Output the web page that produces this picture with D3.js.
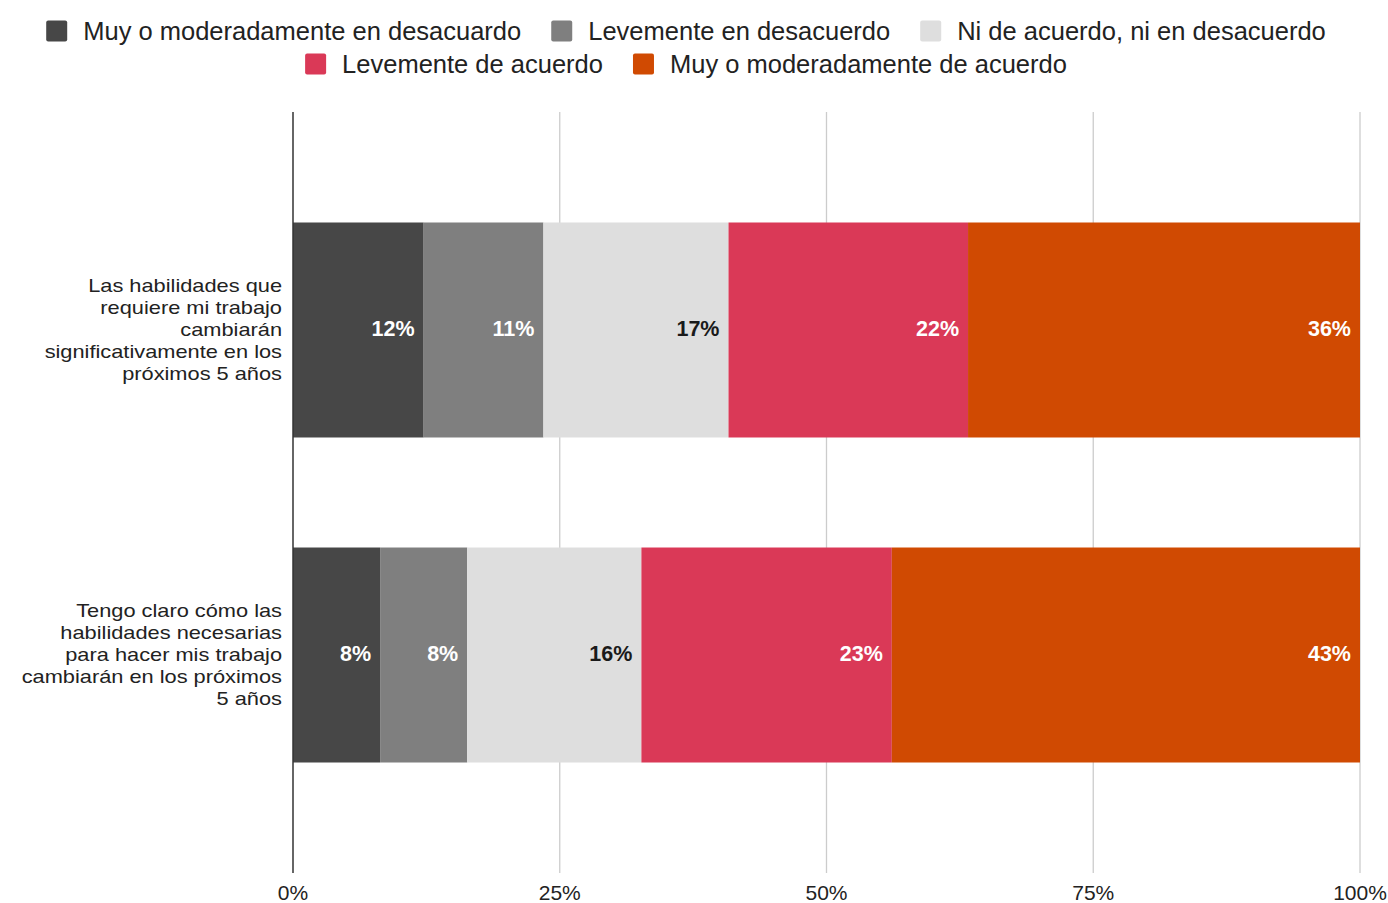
<!DOCTYPE html>
<html><head><meta charset="utf-8">
<script src="https://cdn.jsdelivr.net/npm/d3@7"></script>
<style>
html,body{margin:0;padding:0;background:#fff;}
text{font-family:"Liberation Sans",Arial,sans-serif;}
</style></head>
<body><svg id="chart" width="1388" height="903"></svg>
<script>
const categories = [
  "Las habilidades que requiere mi trabajo cambiarán significativamente en los próximos 5 años",
  "Tengo claro cómo las habilidades necesarias para hacer mis trabajo cambiarán en los próximos 5 años"
];
const categoryLines = [
  ["Las habilidades que","requiere mi trabajo","cambiarán","significativamente en los","próximos 5 años"],
  ["Tengo claro cómo las","habilidades necesarias","para hacer mis trabajo","cambiarán en los próximos","5 años"]
];
const seriesNames = [
  "Muy o moderadamente en desacuardo",
  "Levemente en desacuerdo",
  "Ni de acuerdo, ni en desacuerdo",
  "Levemente de acuerdo",
  "Muy o moderadamente de acuerdo"
];
const seriesColors = ["#474747","#7f7f7f","#dedede","#da3957","#d04a02"];
const labelColors = ["#fff","#fff","#1a1a1a","#fff","#fff"];
const muyDesacuerdo = [12, 8];
const levDesacuerdo = [11, 8];
const neutral = [17, 16];
const levAcuerdo = [22, 23];
const muyAcuerdo = [36, 43];
const tickValues = [0, 0.25, 0.5, 0.75, 1];
const tickLabels = ["0%","25%","50%","75%","100%"];

(function(){
const seriesValues = [muyDesacuerdo, levDesacuerdo, neutral, levAcuerdo, muyAcuerdo];
const table = categories.map((c, i) => {
  const row = {category: c, idx: i};
  seriesNames.forEach((s, j) => row[s] = seriesValues[j][i]);
  return row;
});

const svg = d3.select("#chart");
const pLeft = 293, pRight = 1360, pTop = 112, pBottom = 873;

const x = d3.scaleLinear().domain([0, 1]).range([pLeft, pRight]);
const y = d3.scaleBand().domain(categories).range([pTop, pBottom]).paddingInner(0.3385).paddingOuter(0.34);

const stacked = d3.stack().keys(seriesNames).offset(d3.stackOffsetExpand)(table);

// grid
svg.append("g").selectAll("line").data(tickValues.slice(1)).join("line")
  .attr("x1", d => x(d)).attr("x2", d => x(d))
  .attr("y1", pTop).attr("y2", pBottom)
  .attr("stroke", "#cccccc").attr("stroke-width", 1.3);

// bars
const layers = svg.append("g").selectAll("g").data(stacked).join("g")
  .attr("fill", (d, i) => seriesColors[i]);
layers.selectAll("rect").data(d => d).join("rect")
  .attr("x", d => x(d[0]))
  .attr("y", d => y(d.data.category))
  .attr("width", d => x(d[1]) - x(d[0]))
  .attr("height", y.bandwidth());

// value labels
stacked.forEach((layer, i) => {
  svg.append("g").selectAll("text").data(layer).join("text")
    .attr("x", d => x(d[1]) - 9)
    .attr("y", d => y(d.data.category) + y.bandwidth() / 2 - 1)
    .attr("text-anchor", "end")
    .attr("dominant-baseline", "central")
    .attr("font-size", 21.5).attr("font-weight", "bold")
    .attr("fill", labelColors[i])
    .text(d => d.data[layer.key] + "%");
});

// zero axis line
svg.append("line").attr("x1", x(0)).attr("x2", x(0)).attr("y1", pTop).attr("y2", pBottom)
  .attr("stroke", "#333").attr("stroke-width", 1.5);

// x tick labels
svg.append("g").selectAll("text").data(tickValues).join("text")
  .attr("x", d => x(d)).attr("y", 900)
  .attr("text-anchor", "middle").attr("font-size", 21).attr("fill", "#222")
  .text((d, i) => tickLabels[i]);

// category labels (slightly wide glyphs, as in the reference)
categories.forEach((c, i) => {
  const lines = categoryLines[i];
  const cy = y(c) + y.bandwidth() / 2 - 1;
  const lh = 22;
  const g = svg.append("g").attr("transform", `translate(282,${cy}) scale(1.147,1)`);
  const t = g.append("text").attr("text-anchor", "end").attr("font-size", 19).attr("fill", "#222");
  lines.forEach((ln, k) => {
    t.append("tspan").attr("x", 0)
      .attr("y", (k - (lines.length - 1) / 2) * lh)
      .attr("dominant-baseline", "central")
      .text(ln);
  });
});

// legend
const rows = [[0,1,2],[3,4]];
const rowY = [31, 64];
const lg = svg.append("g");
const sq = 21, gapT = 16, gapI = 30, fs = 25.5;
rows.forEach((r, ri) => {
  const g = lg.append("g");
  let cx = 0;
  r.forEach(si => {
    g.append("rect").attr("x", cx).attr("y", rowY[ri] - sq/2).attr("width", sq).attr("height", sq)
      .attr("rx", 2).attr("fill", seriesColors[si]);
    const t = g.append("text").attr("x", cx + sq + gapT).attr("y", rowY[ri])
      .attr("dominant-baseline", "central").attr("font-size", fs).attr("fill", "#222")
      .text(seriesNames[si]);
    cx += sq + gapT + t.node().getComputedTextLength() + gapI;
  });
  const w = cx - gapI;
  g.attr("transform", `translate(${686 - w/2},0)`);
});
})();
</script></body></html>
